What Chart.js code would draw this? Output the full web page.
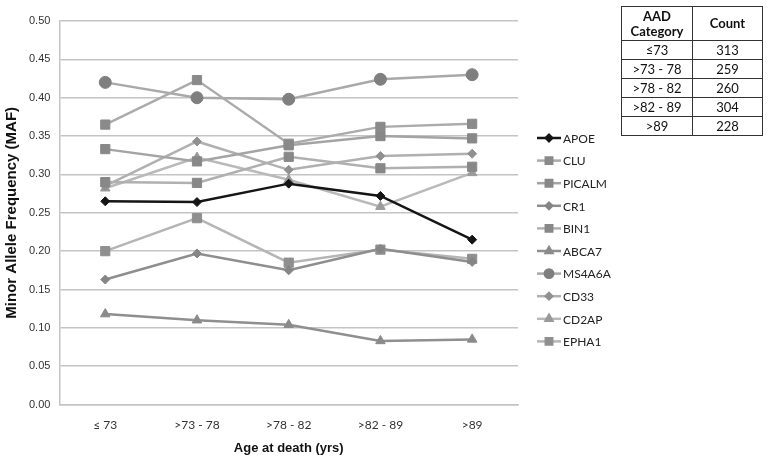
<!DOCTYPE html>
<html>
<head>
<meta charset="utf-8">
<script src="https://cdn.jsdelivr.net/npm/chart.js@4/dist/chart.umd.min.js"></script>
<style>
  html, body { margin: 0; padding: 0; background: #fff; }
  #wrap { position: relative; width: 770px; height: 462px; }
  #chart { position: absolute; left: 0; top: 0; }
  #aad {
    position: absolute; left: 621px; top: 6px; width: 142px;
    border-collapse: collapse; font-family: Lato, "Open Sans", sans-serif;
    font-size: 13px; color: #111; border: 1.5px solid #222;
  }
  #aad td, #aad th { border: 1px solid #333; text-align: center; padding: 0; height: 18px; }
  #aad th { font-weight: bold; height: 33px; line-height: 15px; }
  #aad td:first-child, #aad th:first-child { width: 70px; }
</style>
</head>
<body>
<div id="wrap">
  <canvas id="chart" width="770" height="462"></canvas>
  <table id="aad"></table>
</div>
<script>
(function () {
  'use strict';

  // ---- Data ----
  const categories = ['\u2264 73', '>73 - 78', '>78 - 82', '>82 - 89', '>89'];
  const seriesNames = ['APOE', 'CLU', 'PICALM', 'CR1', 'BIN1', 'ABCA7', 'MS4A6A', 'CD33', 'CD2AP', 'EPHA1'];

  const apoe   = [0.265, 0.264, 0.288, 0.272, 0.215];
  const clu    = [0.365, 0.423, 0.340, 0.362, 0.366];
  const picalm = [0.333, 0.317, 0.338, 0.350, 0.347];
  const cr1    = [0.163, 0.197, 0.175, 0.203, 0.186];
  const bin1   = [0.290, 0.289, 0.323, 0.308, 0.310];
  const abca7  = [0.118, 0.110, 0.104, 0.083, 0.085];
  const ms4a6a = [0.420, 0.400, 0.398, 0.424, 0.430];
  const cd33   = [0.285, 0.343, 0.306, 0.324, 0.327];
  const cd2ap  = [0.282, 0.322, 0.293, 0.258, 0.302];
  const epha1  = [0.200, 0.243, 0.185, 0.202, 0.190];

  const yTicks = [0, 0.05, 0.10, 0.15, 0.20, 0.25, 0.30, 0.35, 0.40, 0.45, 0.50];

  const tableHead = ['AAD<br>Category', 'Count'];
  const aadCategories = ['\u226473', '>73 - 78', '>78 - 82', '>82 - 89', '>89'];
  const aadCounts = [313, 259, 260, 304, 228];

  // ---- Styles ----
  const values = [apoe, clu, picalm, cr1, bin1, abca7, ms4a6a, cd33, cd2ap, epha1];
  const lineColors = ['#151515', '#ababab', '#a4a4a4', '#8e8e8e', '#b0b0b0', '#8f8f8f', '#a9a9a9', '#b0b0b0', '#b9b9b9', '#b5b5b5'];
  const markColors = ['#151515', '#8a8a8a', '#888888', '#858585', '#888888', '#8a8a8a', '#7f7f7f', '#909090', '#9a9a9a', '#8f8f8f'];
  const markStyles = ['rectRot', 'rect', 'rect', 'rectRot', 'rect', 'triangle', 'circle', 'rectRot', 'triangle', 'rect'];
  const markSizes  = [4.5, 6.5, 6.5, 4.5, 6.5, 5.5, 6, 4.5, 5.5, 6.5];

  // ---- Table ----
  const table = document.getElementById('aad');
  table.innerHTML = '<tr><th>' + tableHead[0] + '</th><th>' + tableHead[1] + '</th></tr>' +
    aadCategories.map((c, i) => `<tr><td>${c}</td><td>${aadCounts[i]}</td></tr>`).join('');

  // ---- Legend (line + marker, like the original) ----
  const sideLegend = {
    id: 'sideLegend',
    afterDraw(chart) {
      const ctx = chart.ctx;
      const x0 = 537, x1 = 561, top = 138, step = 22.6;
      chart.data.datasets.forEach((ds, i) => {
        const y = top + i * step;
        ctx.save();
        ctx.strokeStyle = ds.borderColor;
        ctx.lineWidth = ds.borderWidth;
        ctx.beginPath();
        ctx.moveTo(x0, y);
        ctx.lineTo(x1, y);
        ctx.stroke();
        ctx.fillStyle = ds.pointBackgroundColor;
        ctx.strokeStyle = ds.pointBorderColor;
        Chart.helpers.drawPoint(ctx, { pointStyle: ds.pointStyle, radius: ds.pointRadius * 0.7, borderWidth: 1 }, (x0 + x1) / 2, y);
        ctx.fillStyle = '#222';
        ctx.font = '12px Lato, "Open Sans", sans-serif';
        ctx.textBaseline = 'middle';
        ctx.fillText(ds.label, x1 + 2, y + 1);
        ctx.restore();
      });
    }
  };

  const datasets = seriesNames.map((name, i) => ({
    label: name,
    data: values[i],
    borderColor: lineColors[i],
    borderWidth: 2.5,
    pointStyle: markStyles[i],
    pointRadius: markSizes[i],
    pointBackgroundColor: markColors[i],
    pointBorderColor: markColors[i],
    pointBorderWidth: 1,
    tension: 0,
    fill: false
  }));

  new Chart(document.getElementById('chart').getContext('2d'), {
    type: 'line',
    data: { labels: categories, datasets },
    plugins: [sideLegend],
    options: {
      responsive: false,
      animation: false,
      layout: { padding: { top: 21, right: 252, left: 4, bottom: 7 } },
      plugins: { legend: { display: false }, tooltip: { enabled: false } },
      scales: {
        x: {
          offset: true,
          grid: { display: false, drawTicks: false },
          border: { display: true, color: '#c4c4c4', width: 1.5 },
          ticks: { color: '#333', font: { family: 'Lato, Arial, sans-serif', size: 12 }, padding: 13 },
          title: {
            display: true, text: 'Age at death (yrs)', color: '#111',
            font: { family: 'Liberation Sans, Arial, sans-serif', size: 13, weight: 'bold', lineHeight: 1 },
            padding: { top: -3, bottom: 0 }
          }
        },
        y: {
          min: 0, max: 0.5,
          afterBuildTicks(axis) { axis.ticks = yTicks.map(v => ({ value: v })); },
          grid: { color: '#c4c4c4', lineWidth: 1.5, drawTicks: false },
          border: { display: true, color: '#c4c4c4', width: 1.5 },
          ticks: {
            color: '#333', padding: 9,
            font: { family: 'Liberation Sans, Arial, sans-serif', size: 11 },
            callback: v => Number(v).toFixed(2)
          },
          title: {
            display: true, text: 'Minor Allele Frequency (MAF)', color: '#111',
            font: { family: 'Liberation Sans, Arial, sans-serif', size: 15, weight: 'bold', lineHeight: 1 },
            padding: { top: 0, bottom: 1 }
          }
        }
      }
    }
  });
})();
</script>
</body>
</html>
